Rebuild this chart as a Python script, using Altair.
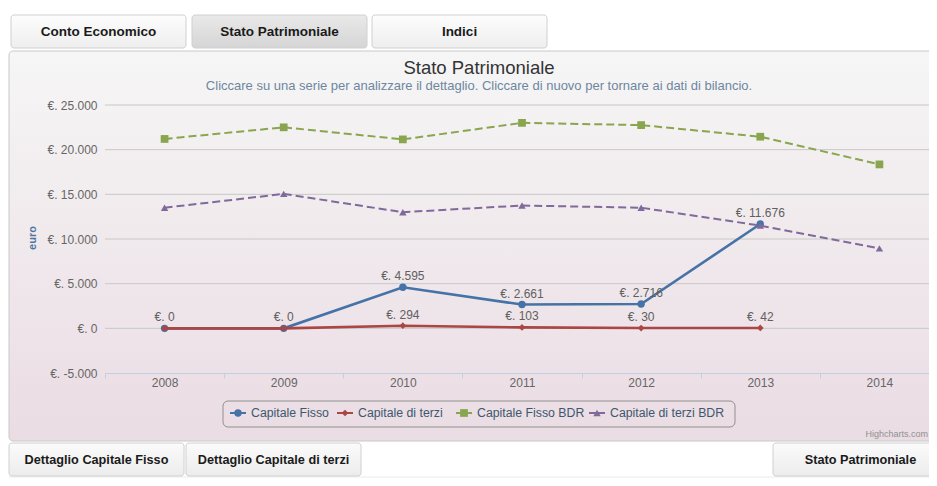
import altair as alt
import pandas as pd

# ---------------- data ----------------
years = ["2008", "2009", "2010", "2011", "2012", "2013", "2014"]
series_names = ["Capitale Fisso", "Capitale di terzi", "Capitale Fisso BDR", "Capitale di terzi BDR"]
capitale_fisso = [0, 0, 4595, 2661, 2716, 11676, None]
capitale_terzi = [0, 0, 294, 103, 30, 42, None]
capitale_fisso_bdr = [21200, 22500, 21150, 23000, 22750, 21450, 18350]
capitale_terzi_bdr = [13500, 15050, 13000, 13750, 13500, 11500, 8950]
labelled = ["Capitale Fisso", "Capitale di terzi"]
y_ticks = [-5000, 0, 5000, 10000, 15000, 20000, 25000]
grid_ticks = [0, 5000, 10000, 15000, 20000, 25000]

title_text = "Stato Patrimoniale"
subtitle_text = "Cliccare su una serie per analizzare il dettaglio. Cliccare di nuovo per tornare ai dati di bilancio."
top_buttons = ["Conto Economico", "Stato Patrimoniale", "Indici"]
bottom_buttons = ["Dettaglio Capitale Fisso", "Dettaglio Capitale di terzi", "Stato Patrimoniale"]

# ---------------- styles ----------------
colors = ["#4572A7", "#AA4643", "#89A54E", "#80699B"]
shapes = ["circle", "diamond", "square", "triangle-up"]
sizes = [55, 45, 60, 55]
widths = [2.6, 2.6, 2, 2]
dashes = [None, None, [8, 4], [8, 4]]
FONT = "Liberation Sans"

values_by_series = [capitale_fisso, capitale_terzi, capitale_fisso_bdr, capitale_terzi_bdr]
rows = []
for name, vals in zip(series_names, values_by_series):
    for yr, v in zip(years, vals):
        if v is None:
            continue
        rows.append({"year": yr, "series": name, "value": v})
df = pd.DataFrame(rows)


def fmt(v):
    return "€. " + f"{int(v):,}".replace(",", ".")


lab_rows = []
seen = set()
for name in labelled:
    sub = df[df.series == name]
    for _, r in sub.iterrows():
        key = (r.year, fmt(r.value))
        if key in seen:
            continue
        seen.add(key)
        lab_rows.append({"year": r.year, "value": r.value, "label": fmt(r.value)})
labels_df = pd.DataFrame(lab_rows)

W, H = 824, 268       # visible plot area (page is cut at the right edge)
PLOT_RANGE = 834      # full plot width of the original, partly outside the window

x_enc = alt.X("year:O", scale=alt.Scale(type="band", domain=years, paddingInner=0, paddingOuter=0,
                                        range=[0, PLOT_RANGE]),
              axis=alt.Axis(title=None, labelAngle=0, tickBand="extent", domainColor="#C0D0E0",
                            tickColor="#C0D0E0", tickSize=5, labelPadding=-1, labelColor="#666666",
                            labelFont=FONT, labelFontSize=12, grid=False, zindex=1))
y_axis = alt.Axis(title=None, values=y_ticks, grid=False, domain=False,
                  ticks=False, labelPadding=8, labelColor="#666666", labelFont=FONT,
                  labelFontSize=12, zindex=1,
                  labelExpr="'€. ' + replace(replace(format(datum.value, ','), ',', '.'), '−', '-')")
y_scale = alt.Scale(domain=[-5000, 25000], nice=False, zero=False)
y_enc = alt.Y("value:Q", scale=y_scale, axis=y_axis)

deco = pd.DataFrame({"k": [0]})
O = 105  # page coordinate of the plot origin


def grad(top, bottom):
    return {"gradient": "linear", "x1": 0, "x2": 0, "y1": 0, "y2": 1,
            "stops": [{"offset": 0, "color": top}, {"offset": 1, "color": bottom}]}


def rect(x0, x1, y0, y1, **kw):
    return alt.Chart(deco).mark_rect(**kw).encode(
        x=alt.value(x0 - O), x2=alt.value(x1 - O), y=alt.value(y0 - O), y2=alt.value(y1 - O))


def txt(t, x, y, **kw):
    return alt.Chart(deco).mark_text(text=t, font=FONT, **kw).encode(
        x=alt.value(x - O), y=alt.value(y - O))


layers = []
# light strip under the bottom buttons
layers.append(rect(9, 940, 476, 490, fill="#f5f5f5"))
# panel
layers.append(rect(9, 940, 51, 441, fill=grad("#f6f6f6", "#eadce3"), stroke="#c8c8c8",
                   strokeWidth=1, cornerRadius=4))
# grid lines
layers.append(alt.Chart(pd.DataFrame({"value": grid_ticks})).mark_rule(color="#C8C8C8", strokeWidth=1).encode(
    y=alt.Y("value:Q", scale=y_scale, axis=y_axis)))
# top buttons
top_pos = [(11, 186), (192, 367), (372, 547)]
for i, (lab, (a, b)) in enumerate(zip(top_buttons, top_pos)):
    active = (i == 1)
    fill = grad("#e9e9e9", "#d5d5d5") if active else grad("#fdfdfd", "#eeeeee")
    layers.append(rect(a, b, 15, 48, fill=fill, stroke="#d0d0d0", strokeWidth=1, cornerRadius=3))
    layers.append(txt(lab, (a + b) / 2, 32, fontSize=13.5, fontWeight="bold", color="#1a1a1a",
                      align="center", baseline="middle"))
# bottom buttons
bot_pos = [(9, 184), (186, 361), (773, 948)]
for lab, (a, b) in zip(bottom_buttons, bot_pos):
    layers.append(rect(a, b, 443, 476, fill=grad("#fbfbfb", "#ececec"), stroke="#d0d0d0",
                       strokeWidth=1, cornerRadius=3))
    layers.append(txt(lab, (a + b) / 2, 460, fontSize=12.7, fontWeight="bold", color="#1a1a1a",
                      align="center", baseline="middle"))

# title / subtitle / axis title / credits
layers.append(txt(title_text, 479, 68, fontSize=18.5, color="#333333", align="center", baseline="middle"))
layers.append(txt(subtitle_text, 479, 86, fontSize=13, color="#6D869F", align="center", baseline="middle"))
layers.append(txt("euro", 33, 238, fontSize=11, fontWeight="bold", color="#4D759E", angle=270,
                  align="center", baseline="middle"))
layers.append(txt("Highcharts.com", 928, 437, fontSize=9, color="#909090", align="right",
                  baseline="alphabetic"))

# series
base = alt.Chart(df).encode(x=x_enc, y=y_enc)
for name, c, shp, sz, w, d in zip(series_names, colors, shapes, sizes, widths, dashes):
    kw = {"color": c, "strokeWidth": w}
    if d:
        kw["strokeDash"] = d
    layers.append(base.transform_filter(alt.datum.series == name).mark_line(**kw))
    layers.append(base.transform_filter(alt.datum.series == name).mark_point(
        filled=True, shape=shp, size=sz, color=c, opacity=1))

# data labels
layers.append(alt.Chart(labels_df).mark_text(dy=-11, fontSize=12, font=FONT, color="#606060",
                                              baseline="middle").encode(
    x=x_enc, y=y_enc, text="label:N"))

# legend
layers.append(rect(223, 735, 401, 427, fill="transparent", stroke="#909090", strokeWidth=1, cornerRadius=5))
leg_x = [230, 337, 456, 589]
for name, c, shp, sz, sx in zip(series_names, colors, shapes, sizes, leg_x):
    layers.append(alt.Chart(deco).mark_rule(color=c, strokeWidth=2).encode(
        x=alt.value(sx - O), x2=alt.value(sx + 16 - O), y=alt.value(413 - O)))
    layers.append(alt.Chart(deco).mark_point(filled=True, shape=shp, size=sz, color=c, opacity=1).encode(
        x=alt.value(sx + 8 - O), y=alt.value(413 - O)))
    layers.append(txt(name, sx + 21, 413, fontSize=12.3, color="#3E576F", align="left", baseline="middle"))

chart = alt.layer(*layers).properties(
    width=W, height=H,
    autosize=alt.AutoSizeParams(type="none"),
    padding={"left": 97, "top": 97, "right": 0, "bottom": 105},
    background="white",
).configure_view(stroke=None)

chart.save("out.html", embed_options={"renderer": "svg", "actions": False})
